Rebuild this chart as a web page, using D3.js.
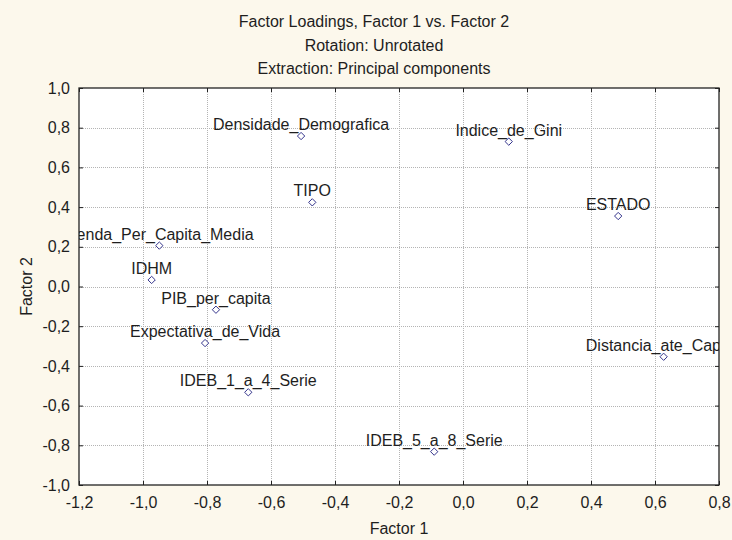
<!DOCTYPE html>
<html>
<head>
<meta charset="utf-8">
<script src="https://cdn.jsdelivr.net/npm/d3@7"></script>
<style>
  body { margin: 0; background: #fcf8ec; }
  text { font-family: "Liberation Sans", Arial, sans-serif; fill: #1e1e1e; }
</style>
</head>
<body>
<svg width="732" height="540"></svg>
<script>
// variable names and their loadings on factor 1 / factor 2
const variables = ['Densidade_Demografica', 'TIPO', 'Renda_Per_Capita_Media', 'IDHM',
    'PIB_per_capita', 'Expectativa_de_Vida', 'IDEB_1_a_4_Serie', 'Indice_de_Gini',
    'ESTADO', 'Distancia_ate_Capital', 'IDEB_5_a_8_Serie'];
const factor1 = [-0.506, -0.471, -0.949, -0.973, -0.772, -0.806, -0.671, 0.143, 0.485, 0.627, -0.090];
const factor2 = [0.758, 0.424, 0.206, 0.033, -0.117, -0.285, -0.533, 0.730, 0.355, -0.354, -0.832];

// tick values
const xTicks = [-1.2, -1.0, -0.8, -0.6, -0.4, -0.2, 0.0, 0.2, 0.4, 0.6, 0.8];
const yTicks = [-1.0, -0.8, -0.6, -0.4, -0.2, 0.0, 0.2, 0.4, 0.6, 0.8, 1.0];

const titleLines = ['Factor Loadings, Factor 1 vs. Factor 2', 'Rotation: Unrotated', 'Extraction: Principal components'];

const svg = d3.select('svg');
const width = +svg.attr('width');
const height = +svg.attr('height');

// comma as decimal separator, plain hyphen for minus
const locale = d3.formatLocale({ decimal: ',', thousands: '.', grouping: [3], currency: ['', ''], minus: '-' });
const fmt = locale.format('.1f');
const fontSize = '16px';

const render = () => {
    const margin = { top: 88, right: 13, bottom: 55, left: 79 };
    const innerWidth = width - margin.left - margin.right;
    const innerHeight = height - margin.top - margin.bottom;

    const xScale = d3.scaleLinear().domain([-1.2, 0.8]).range([0, innerWidth]);
    const yScale = d3.scaleLinear().domain([-1, 1]).range([innerHeight, 0]);

    // titles
    svg.selectAll('.title').data(titleLines)
        .enter().append('text')
            .attr('class', 'title')
            .attr('x', 374)
            .attr('y', (d, i) => 27 + i * 23.5)
            .attr('text-anchor', 'middle')
            .style('font-size', fontSize)
            .text(d => d);

    const g = svg.append('g')
        .attr('transform', `translate(${margin.left},${margin.top})`);

    // plot background
    g.append('rect')
        .attr('width', innerWidth)
        .attr('height', innerHeight)
        .attr('fill', '#fff');

    // dotted grid
    const grid = g.append('g').attr('class', 'grid');
    grid.append('g')
        .attr('transform', `translate(0,${innerHeight})`)
        .call(d3.axisBottom(xScale).tickValues(xTicks.slice(1, -1)).tickSize(-innerHeight).tickFormat(''));
    grid.append('g')
        .call(d3.axisLeft(yScale).tickValues(yTicks.slice(1, -1)).tickSize(-innerWidth).tickFormat(''));
    grid.selectAll('.domain').remove();
    grid.selectAll('line')
        .attr('stroke', '#b4b4b4')
        .attr('stroke-dasharray', '1,1')
        .attr('shape-rendering', 'crispEdges');

    // axes with inward ticks on all four sides
    const xAxis = g.append('g')
        .attr('transform', `translate(0,${innerHeight})`)
        .call(d3.axisBottom(xScale).tickValues(xTicks).tickFormat(fmt).tickSizeInner(-4).tickSizeOuter(0).tickPadding(12));
    const yAxis = g.append('g')
        .call(d3.axisLeft(yScale).tickValues(yTicks).tickFormat(fmt).tickSizeInner(-4).tickSizeOuter(0).tickPadding(9));
    const topAxis = g.append('g')
        .call(d3.axisTop(xScale).tickValues(xTicks).tickFormat('').tickSizeInner(-4).tickSizeOuter(0));
    const rightAxis = g.append('g')
        .attr('transform', `translate(${innerWidth},0)`)
        .call(d3.axisRight(yScale).tickValues(yTicks).tickFormat('').tickSizeInner(-4).tickSizeOuter(0));

    [xAxis, yAxis, topAxis, rightAxis].forEach(a => {
        a.select('.domain').remove();
        a.selectAll('line').attr('stroke', '#222');
        a.selectAll('text').style('font-size', fontSize).attr('fill', '#1e1e1e');
    });

    // frame
    g.append('rect')
        .attr('width', innerWidth)
        .attr('height', innerHeight)
        .attr('fill', 'none')
        .attr('stroke', '#222')
        .attr('stroke-width', 1.3);

    // clip points and labels to the plot area
    g.append('clipPath').attr('id', 'plot-clip')
        .append('rect')
            .attr('width', innerWidth)
            .attr('height', innerHeight);

    const pts = g.append('g').attr('clip-path', 'url(#plot-clip)');
    const idx = d3.range(variables.length);

    pts.selectAll('path').data(idx)
        .enter().append('path')
            .attr('d', d3.symbol(d3.symbolDiamond2, 34)())
            .attr('transform', i => `translate(${xScale(factor1[i])},${yScale(factor2[i])})`)
            .attr('fill', '#fff')
            .attr('stroke', '#34348c')
            .attr('stroke-width', 1);

    pts.selectAll('text').data(idx)
        .enter().append('text')
            .attr('x', i => xScale(factor1[i]))
            .attr('y', i => yScale(factor2[i]) - 6)
            .attr('text-anchor', 'middle')
            .style('font-size', fontSize)
            .text(i => variables[i]);

    // axis titles
    svg.append('text')
        .attr('x', margin.left + innerWidth / 2)
        .attr('y', 534)
        .attr('text-anchor', 'middle')
        .style('font-size', fontSize)
        .text('Factor 1');

    svg.append('text')
        .attr('transform', `translate(32,${margin.top + innerHeight / 2}) rotate(-90)`)
        .attr('text-anchor', 'middle')
        .style('font-size', fontSize)
        .text('Factor 2');
};

render();
</script>
</body>
</html>
